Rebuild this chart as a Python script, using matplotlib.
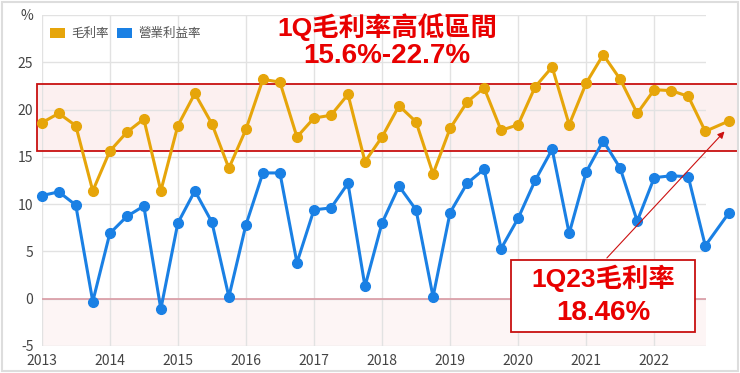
import numpy as np
import matplotlib
matplotlib.use("Agg")
import matplotlib.pyplot as plt
from matplotlib.patches import Patch, Rectangle

plt.rcParams['font.family'] = ['Noto Sans CJK TC', 'DejaVu Sans']

# quarterly data, 1Q13 .. 1Q23
quarters = list(np.arange(2013, 2023, 0.25)) + [2023.1]
gross_margin = [18.6, 19.6, 18.3, 11.4, 15.6, 17.6, 19.0, 11.4, 18.3,
                21.7, 18.5, 13.8, 17.9, 23.2, 22.9, 17.1, 19.1, 19.4,
                21.6, 14.5, 17.1, 20.4, 18.7, 13.2, 18.0, 20.8, 22.3,
                17.8, 18.4, 22.4, 24.5, 18.4, 22.8, 25.8, 23.2, 19.6,
                22.1, 22.0, 21.4, 17.7, 18.8]
op_margin = [10.9, 11.3, 9.9, -0.3, 6.9, 8.7, 9.8, -1.1, 8.0,
             11.4, 8.1, 0.2, 7.8, 13.3, 13.3, 3.8, 9.4, 9.6,
             12.2, 1.3, 8.0, 11.9, 9.4, 0.2, 9.1, 12.2, 13.7,
             5.3, 8.5, 12.5, 15.8, 6.9, 13.4, 16.7, 13.8, 8.2,
             12.8, 13.0, 12.9, 5.6, 9.1]
year_ticks = list(range(2013, 2023))
y_ticks = [-5, 0, 5, 10, 15, 20, 25, 30]
y_labels = ['-5', '0', '5', '10', '15', '20', '25', '%']
band_low, band_high = 15.6, 22.7

gold = '#e6a50a'
blue = '#1a80e4'
red = '#e80000'
big_font = ['Liberation Sans', 'Noto Sans CJK TC']

fig = plt.figure(figsize=(7.4, 3.73), dpi=100)
ax = fig.add_axes([0.0564, 0.0724, 0.8976, 0.8874])

ax.plot(quarters, gross_margin, color=gold, lw=2.2, marker='o', ms=7, clip_on=False, zorder=4)
ax.plot(quarters, op_margin, color=blue, lw=2.2, marker='o', ms=7, clip_on=False, zorder=4)

ax.set_xlim(2013, 2022.76)
ax.set_ylim(-5, 30)
ax.set_xticks(year_ticks)
ax.set_xticklabels([str(y) for y in year_ticks])
ax.set_yticks(y_ticks)
ax.set_yticklabels(y_labels)
ax.tick_params(length=0, labelsize=10, colors='#444444', pad=6)
ax.grid(True, color='#e2e2e2', lw=1)
ax.set_axisbelow(True)
for s in ax.spines.values():
    s.set_visible(False)

# faint pink area below zero and zero line
ax.axhspan(-5, 0, color='#fdf5f5', zorder=0)
ax.axhline(0, color='#d99aa4', lw=1.2, zorder=1)

# highlight band for 1Q gross margin range (spans past the axes)
x0 = 37 / 740
x1 = 738 / 740
y0 = ax.transData.transform((0, band_low))[1] / fig.bbox.height
y1 = ax.transData.transform((0, band_high))[1] / fig.bbox.height
ax.add_patch(Rectangle((x0, y0), x1 - x0, y1 - y0, transform=fig.transFigure,
                       facecolor='#fbe6e6', alpha=0.6, edgecolor='none', zorder=0.5,
                       clip_on=False))
ax.add_patch(Rectangle((x0, y0), x1 - x0, y1 - y0, transform=fig.transFigure,
                       facecolor='none', edgecolor='#c81010', lw=1.3, zorder=3,
                       clip_on=False))

# legend
handles = [Patch(facecolor=gold, edgecolor='none', label='毛利率'),
           Patch(facecolor=blue, edgecolor='none', label='營業利益率')]
fig.legend(handles=handles, loc='upper left', bbox_to_anchor=(0.053, 0.957), ncol=2,
           frameon=False, fontsize=9, handlelength=1.2, handleheight=0.8,
           handletextpad=0.5, columnspacing=0.6, labelcolor='#555555')

# title annotation
fig.text(387 / 740, 1 - 27 / 373, '1Q毛利率高低區間', color=red, fontsize=19,
         fontweight='bold', family=big_font, ha='center', va='center')
fig.text(387 / 740, 1 - 56 / 373, '15.6%-22.7%', color=red, fontsize=20,
         fontweight='bold', family=big_font, ha='center', va='center')

# callout box
bx0, bx1 = 511 / 740, 695 / 740
by0, by1 = 1 - 332 / 373, 1 - 260 / 373
fig.patches.append(Rectangle((bx0, by0), bx1 - bx0, by1 - by0, transform=fig.transFigure,
                             facecolor='white', edgecolor='#c81010', lw=1.3, zorder=6))
fig.text((bx0 + bx1) / 2, 1 - 278 / 373, '1Q23毛利率', color=red, fontsize=19,
         fontweight='bold', family=big_font, ha='center', va='center', zorder=7)
fig.text((bx0 + bx1) / 2, 1 - 313 / 373, '18.46%', color=red, fontsize=20,
         fontweight='bold', family=big_font, ha='center', va='center', zorder=7)

ax.annotate('', xy=(quarters[-1] - 0.04, gross_margin[-1] - 0.9), xycoords='data',
            xytext=(605 / 740, 1 - 260 / 373), textcoords='figure fraction',
            arrowprops=dict(arrowstyle='-|>', color='#cc1111', lw=0.8, mutation_scale=10),
            annotation_clip=False, zorder=8)

# light frame around the picture
fig.patches.append(Rectangle((0.003, 0.006), 0.994, 0.988, transform=fig.transFigure,
                             facecolor='none', edgecolor='#dddddd', lw=1.5))

fig.savefig('out.png', dpi=100)
